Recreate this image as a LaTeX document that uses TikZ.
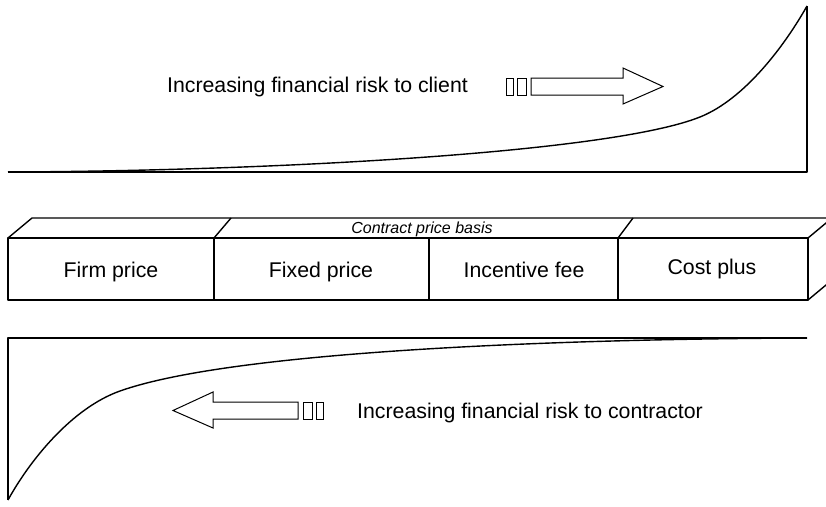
\documentclass[tikz,border=0pt]{standalone}
\usepackage{fontspec}
\setmainfont{Liberation Sans}
\begin{document}
\begin{tikzpicture}[x=1pt,y=-1pt,
  thick line/.style={line width=1.4pt, line join=round},
  arrow line/.style={line width=1pt, line join=miter},
  bigtext/.style={font=\fontsize{21.3}{25}\selectfont, inner sep=0pt, anchor=base},
  celltext/.style={font=\fontsize{21.3}{25}\selectfont, inner sep=0pt, anchor=base},
  smalltext/.style={font=\fontsize{16}{19}\itshape\selectfont, inner sep=0pt, anchor=base}]
\useasboundingbox (0,0) rectangle (826,506);
\begin{scope}
\clip (0,0) rectangle (826,506);
% top risk shape
\draw[thick line] (8,172) -- (807,172) -- (807,6);
\draw[thick line] (8,172) .. controls (270,171) and (610,153) .. (700,117)
                          .. controls (745,99) and (785,45) .. (807,6);
% bottom risk shape
\draw[thick line] (807,338) -- (8,338) -- (8,500);
\draw[thick line] (8,500) .. controls (30,460) and (72,408) .. (120,391)
                          .. controls (230,352) and (545,339) .. (807,338);
% contract price basis box
\draw[thick line] (8,238) rectangle (808,300);
\draw[thick line] (8,238) -- (32,218) -- (830,218);
\draw[thick line] (808,238) -- (832,218);
\draw[thick line] (808,300) -- (832,280);
\draw[thick line] (214,238) -- (214,300);
\draw[thick line] (214,238) -- (231,218);
\draw[thick line] (429,238) -- (429,300);
\draw[thick line] (618,238) -- (618,300);
\draw[thick line] (618,238) -- (633,218);
\end{scope}
% labels
\node[smalltext] (basis) at (422,233) {Contract price basis};
\node[celltext] (firm) at (111,277) {Firm price};
\node[celltext] (fixed) at (321,277) {Fixed price};
\node[celltext] (incentive) at (524,277) {Incentive fee};
\node[celltext] (cost) at (712,274) {Cost plus};
\node[bigtext] (client) at (317.5,92) {Increasing financial risk to client};
\node[bigtext] (contractor) at (530,418) {Increasing financial risk to contractor};
% top arrow
\draw[arrow line] (506,78) rectangle (513,95);
\draw[arrow line] (517,78) rectangle (526,95);
\draw[arrow line] (531,78) -- (623,78) -- (623,68) -- (663,86.5) -- (623,104) -- (623,95) -- (531,95) -- cycle;
% bottom arrow
\draw[arrow line] (323,402) rectangle (316,419);
\draw[arrow line] (312,402) rectangle (303,419);
\draw[arrow line] (298,402) -- (213,402) -- (213,392) -- (173,410.5) -- (213,428) -- (213,419) -- (298,419) -- cycle;
\end{tikzpicture}
\end{document}
